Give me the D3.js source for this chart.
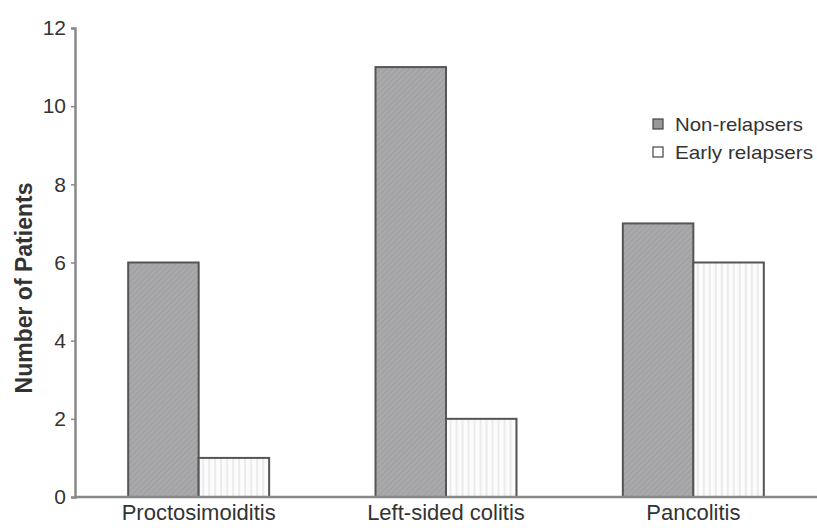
<!DOCTYPE html>
<html><head><meta charset="utf-8">
<script src="https://cdn.jsdelivr.net/npm/d3@7"></script>
<style>body{margin:0;background:#fff}svg{display:block}text{font-family:"Liberation Sans",Arial,sans-serif}</style>
</head><body><svg id="c" width="817" height="528"></svg>
<script>
const categories = ["Proctosimoiditis", "Left-sided colitis", "Pancolitis"];
const seriesNames = ["Non-relapsers", "Early relapsers"];
const nonRelapsers = [6, 11, 7];
const earlyRelapsers = [1, 2, 6];
const yTicks = [0, 2, 4, 6, 8, 10, 12];

const svg = d3.select("#c");
const defs = svg.append("defs");
const p1 = defs.append("pattern").attr("id","diag").attr("patternUnits","userSpaceOnUse")
  .attr("width",4).attr("height",4).attr("patternTransform","rotate(45)");
p1.append("rect").attr("width",4).attr("height",4).attr("fill","#a9a9ab");
p1.append("line").attr("x1",0).attr("y1",0).attr("x2",0).attr("y2",4).attr("stroke","#9a9a9c").attr("stroke-width",1.5);
const p2 = defs.append("pattern").attr("id","vert").attr("patternUnits","userSpaceOnUse")
  .attr("width",6).attr("height",6);
p2.append("rect").attr("width",6).attr("height",6).attr("fill","#fcfcfc");
p2.append("line").attr("x1",3).attr("y1",0).attr("x2",3).attr("y2",6).attr("stroke","#e6e6e8").attr("stroke-width",1.5);

const x0 = d3.scaleBand().domain(categories).range([75, 817]).paddingInner(0.43).paddingOuter(0.215);
const x1 = d3.scaleBand().domain(seriesNames).range([0, x0.bandwidth()]);
const y = d3.scaleLinear().domain([0, 12]).range([497, 28]);

const fills = {"Non-relapsers":"url(#diag)","Early relapsers":"url(#vert)"};
const data = categories.map((c,i)=>({cat:c, vals:[{s:seriesNames[0],v:nonRelapsers[i]},{s:seriesNames[1],v:earlyRelapsers[i]}]}));

const g = svg.append("g");
g.selectAll("g.grp").data(data).join("g").attr("class","grp")
  .attr("transform",d=>`translate(${x0(d.cat)},0)`)
  .selectAll("rect").data(d=>d.vals).join("rect")
  .attr("x",d=>x1(d.s)).attr("width",x1.bandwidth())
  .attr("y",d=>y(d.v)).attr("height",d=>y(0)-y(d.v))
  .attr("fill",d=>fills[d.s]).attr("stroke","#555").attr("stroke-width",2);

// y axis
const ya = svg.append("g").attr("transform","translate(75,0)")
  .call(d3.axisLeft(y).tickValues(yTicks).tickSize(4).tickPadding(5));
ya.select(".domain").attr("stroke","#888").attr("stroke-width",2.5);
ya.selectAll(".tick line").attr("stroke","#888").attr("stroke-width",1.5);
ya.selectAll(".tick text").attr("font-size",21).attr("fill","#333");

// x axis
const xa = svg.append("g").attr("transform",`translate(0,${y(0)})`)
  .call(d3.axisBottom(x0).tickSize(0).tickPadding(7));
xa.select(".domain").attr("stroke","#888").attr("stroke-width",2.5).attr("d","M75,0H817");
xa.selectAll(".tick text").attr("font-size",22).attr("fill","#333");

// y label
svg.append("text").attr("transform","translate(32,288) rotate(-90)")
  .attr("text-anchor","middle").attr("font-size",23).attr("font-weight","bold").attr("fill","#333")
  .text("Number of Patients");

// legend
const lg = svg.append("g").attr("transform","translate(653,124)");
const li = lg.selectAll("g").data(seriesNames).join("g").attr("transform",(d,i)=>`translate(0,${i*28})`);
li.append("rect").attr("x",0).attr("y",-5).attr("width",10).attr("height",10)
  .attr("fill",d=>d===seriesNames[0]?"#999":"#fff").attr("stroke","#444").attr("stroke-width",1.2);
li.append("text").attr("x",22).attr("dy","0.35em").attr("font-size",19).attr("fill","#333")
  .attr("textLength",d=>d===seriesNames[0]?128:138).attr("lengthAdjust","spacingAndGlyphs")
  .text(d=>d);
</script></body></html>
